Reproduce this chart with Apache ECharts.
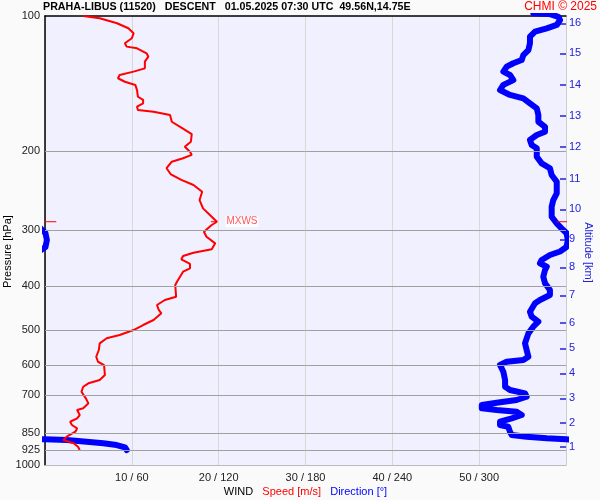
<!DOCTYPE html>
<html>
<head>
<meta charset="utf-8">
<script src="https://cdn.jsdelivr.net/npm/echarts@6/dist/echarts.min.js"></script>
<style>
html,body{margin:0;padding:0;background:#fafafa;}
#c{width:600px;height:500px;}
</style>
</head>
<body>
<div id="c"></div>
<script>
// ---- data ----
// wind speed profile [m/s] and its pressure levels [hPa]
const speedPres = [100,101.2,103.8,106.5,109.3,112.1,115.0,117.0,118.0,121.1,123.2,126.4,130.8,133.0,135.3,137.6,140.1,142.4,146.2,151.3,153.8,156.5,159.2,162.0,163.4,166.2,172.0,177.2,183.2,190.5,195.5,200.5,203.9,207.4,211.1,218.3,225.4,231.8,237.9,246.2,257.0,268.2,279.9,287.2,292.1,302.3,310.2,320.9,330.9,336.7,342.4,348.3,356.7,364.7,371.1,390.6,397.3,421.9,429.1,440.2,451.6,459.3,475.4,487.8,500.5,513.5,522.2,535.8,554.5,574.0,588.9,598.9,630.4,646.8,657.8,669.4,686.8,710.4,728.9,747.8,754.3,773.9,787.1,801.0,814.6,828.5,843.1,865.0,879.8,894.8,910.6,926.2];
const speed = [4.4,6.3,8.3,9.6,10.2,10.0,9.2,9.4,10.6,11.7,11.9,11.5,11.5,10.2,8.6,8.4,9.2,10.4,10.6,10.7,11.3,11.3,10.6,10.7,12.5,14.4,14.6,15.7,16.9,16.8,16.1,16.7,16.9,15.9,14.6,14.0,14.5,15.7,17.1,18.1,17.8,18.2,19.2,19.8,19.2,18.3,18.6,19.6,19.2,17.1,15.9,15.7,16.7,16.7,15.9,15.2,15.0,15.1,13.8,12.9,13.1,13.4,12.5,11.3,10.2,8.6,7.1,6.3,6.2,5.9,6.1,6.8,6.9,6.3,5.0,4.4,4.2,4.7,5.0,4.4,3.7,4.0,3.7,2.9,3.1,3.7,3.5,2.5,2.1,3.3,3.8,4.0];
// wind direction profile [deg] (unwrapped, may exceed 360) and pressure levels [hPa]
const dirPres = [98.6,99.0,100.4,102.1,104.7,106.5,108.4,111.2,115.0,119.1,122.2,125.3,127.4,129.7,133.0,135.3,138.9,142.4,146.2,149.9,152.5,156.5,160.6,166.2,172.0,176.5,181.0,184.1,188.8,193.8,197.1,205.8,212.9,218.3,226.0,233.9,248.3,257.0,266.0,279.9,289.6,299.7,304.3,315.4,327.0,334.6,340.7,349.5,355.4,361.7,367.9,380.7,393.9,407.6,418.2,429.1,436.4,455.6,467.4,479.6,492.0,509.1,535.8,554.5,574.0,583.8,588.9,598.9,619.8,646.8,669.4,680.8,692.4,704.6,716.6,726.6,735.2,747.8,754.3,760.9,773.9,787.1,801.0,814.6,821.8,843.1,857.5,865.0,872.1,876.6,877.5,879.8,887.5,894.8,902.7,913.4,926.2];
const dirDeg = [337.4,348.9,354.7,355.9,353.6,346.7,338.6,335.1,335.1,334.0,330.5,329.4,323.6,319.0,316.7,321.3,323.6,316.7,314.4,321.3,330.5,335.1,339.8,340.9,340.9,345.5,345.5,339.8,335.1,336.3,339.8,339.8,343.2,348.9,350.1,353.6,353.6,351.2,350.1,350.1,353.6,358.1,360.3,361.3,360.3,355.9,348.9,343.2,342.0,346.7,345.5,344.3,345.5,348.9,348.9,342.0,338.6,335.1,336.3,340.9,337.4,334.0,331.7,332.8,334.0,330.5,319.0,314.4,316.7,317.9,317.9,321.3,331.7,332.8,325.9,312.1,301.8,301.8,312.1,325.9,329.4,322.5,314.4,314.4,320.1,321.3,322.5,332.8,346.7,360.0,361.2,375.0,388.8,400.3,409.5,415.3,416.5];
// axis ticks
const pressTicks = [100,200,300,400,500,600,700,850,925,1000];
const speedTicks = [10,20,30,40,50];
const dirTicks = [60,120,180,240,300];
const altKm = [1,2,3,4,5,6,7,8,9,10,11,12,13,14,15,16];
const altPres = [910.4,807.2,710.4,624.9,549.7,482.1,418.8,362.8,314.3,269.6,230.7,195.5,167.1,142.2,121.1,103.8];

// ---- chart ----
const FONT = 'Arial, "Liberation Sans", sans-serif';
let mi = 0;
speed.forEach((s, i) => { if (s > speed[mi]) mi = i; });
const maxS = speed[mi], maxP = speedPres[mi];

const speedData = speed.map((s, i) => [s, speedPres[i]]);
const dirData = dirDeg.map((d, i) => [d, dirPres[i]]);
const dirWrapData = dirDeg.map((d, i) => [d - 360, dirPres[i]]);

const chart = echarts.init(document.getElementById('c'), null, {renderer: 'canvas'});
const blueStyle = {color: '#0000ff', width: 6, cap: 'round', join: 'round'};

chart.setOption({
  backgroundColor: '#fafafa',
  animation: false,
  title: [
    {text: 'PRAHA-LIBUS (11520)   DESCENT   01.05.2025 07:30 UTC  49.56N,14.75E',
     left: 43, top: 2, padding: 0, textStyle: {fontFamily: FONT, fontSize: 10.7, fontWeight: 'bold', color: '#000'}},
    {text: 'CHMI \u00a9 2025', right: 3, top: 1, padding: 0,
     textStyle: {fontFamily: FONT, fontSize: 12, fontWeight: 'normal', color: '#ff0000'}}
  ],
  grid: {left: 45, right: 34, top: 16, bottom: 35, outerBoundsMode: 'none', containLabel: false,
         show: true, backgroundColor: '#f0f0ff', borderWidth: 0},
  xAxis: [
    {type: 'value', min: 0, max: 60, interval: 10, position: 'bottom',
     axisLine: {lineStyle: {color: '#bbbbbb', width: 1}},
     axisTick: {show: false},
     splitLine: {show: true, lineStyle: {color: '#d8d8d8', width: 1}},
     axisLabel: {fontFamily: FONT, fontSize: 11, color: '#222', margin: 7,
       formatter: v => { const k = speedTicks.indexOf(v); return k < 0 ? '' : v + ' / ' + dirTicks[k]; }},
     name: '{k|WIND}   {r|Speed [m/s]}   {b|Direction [\u00b0]}',
     nameLocation: 'middle', nameGap: 21, nameMoveOverlap: false,
     nameTextStyle: {fontFamily: FONT, fontSize: 11, rich: {
       k: {color: '#000', fontFamily: FONT, fontSize: 11},
       r: {color: '#ff0000', fontFamily: FONT, fontSize: 11},
       b: {color: '#0000ff', fontFamily: FONT, fontSize: 11}}}},
    {type: 'value', min: 0, max: 360, position: 'top',
     axisLine: {show: true, onZero: false, lineStyle: {color: '#000', width: 1.5}},
     axisTick: {show: false}, axisLabel: {show: false}, splitLine: {show: false}}
  ],
  yAxis: [
    {type: 'log', logBase: 10, min: 100, max: 1000, inverse: true, position: 'left',
     axisLine: {show: true, onZero: false, lineStyle: {color: '#000', width: 1.5}},
     axisTick: {show: false},
     splitLine: {show: false},
     axisLabel: {customValues: pressTicks, fontFamily: FONT, fontSize: 11, color: '#222', margin: 5,
       formatter: v => String(Math.round(v))},
     name: 'Pressure [hPa]', nameLocation: 'middle', nameGap: 32, nameRotate: 90, nameMoveOverlap: false,
     nameTextStyle: {fontFamily: FONT, fontSize: 11, color: '#000', padding: [0, 22, 0, 0]}},
    {type: 'log', logBase: 10, min: 100, max: 1000, inverse: true, position: 'right',
     axisLine: {show: true, onZero: false, lineStyle: {color: '#cccccc', width: 1}},
     axisTick: {show: true, inside: true, length: 6, customValues: altPres, lineStyle: {color: '#2222dd', width: 1.5}},
     splitLine: {show: false},
     axisLabel: {customValues: altPres, fontFamily: FONT, fontSize: 11, color: '#2222dd', margin: 3,
       formatter: v => { let k = 0, best = 1e9; altPres.forEach((p, i) => { const d = Math.abs(p - v); if (d < best) { best = d; k = i; } }); return String(altKm[k]); }},
     name: 'Altitude [km]', nameLocation: 'middle', nameGap: 17, nameRotate: -90, nameMoveOverlap: false,
     nameTextStyle: {fontFamily: FONT, fontSize: 11, color: '#2222dd', padding: [0, 0, 0, 24]}}
  ],
  series: [
    {name: 'grid', type: 'line', xAxisIndex: 0, yAxisIndex: 0, data: speedData, z: 1,
     symbol: 'none', lineStyle: {opacity: 0}, silent: true,
     markLine: {silent: true, symbol: 'none', animation: false, label: {show: false},
       lineStyle: {color: '#a0a0a0', width: 1, type: 'solid'},
       data: pressTicks.filter(p => p !== 100 && p !== 1000).map(p => ({yAxis: p}))}},
    {name: 'dir', type: 'line', xAxisIndex: 1, yAxisIndex: 0, data: dirData, z: 3,
     symbol: 'none', clip: true, lineStyle: blueStyle},
    {name: 'dirWrap', type: 'line', xAxisIndex: 1, yAxisIndex: 0, data: dirWrapData, z: 3,
     symbol: 'none', clip: true, lineStyle: blueStyle},
    {name: 'speed', type: 'line', xAxisIndex: 0, yAxisIndex: 0, data: speedData, z: 4,
     symbol: 'none', lineStyle: {color: '#ff0000', width: 2}},
    {name: 'mxwsTick', type: 'line', xAxisIndex: 0, yAxisIndex: 0, z: 5, symbol: 'none', clip: false,
     data: [[maxS - 0.7, maxP], [maxS, maxP]], lineStyle: {color: '#ff0000', width: 1}},
    {name: 'mxwsL', type: 'line', xAxisIndex: 0, yAxisIndex: 0, z: 5, symbol: 'none', clip: false,
     data: [[-0.2, maxP], [1.3, maxP]], lineStyle: {color: '#ff0000', width: 1}},
    {name: 'mxwsR', type: 'line', xAxisIndex: 0, yAxisIndex: 0, z: 5, symbol: 'none', clip: false,
     data: [[58.9, maxP], [60.3, maxP]], lineStyle: {color: '#ff0000', width: 1}},
    {name: 'mxwsLabel', type: 'scatter', xAxisIndex: 0, yAxisIndex: 0, z: 6, symbolSize: 1,
     itemStyle: {color: 'rgba(0,0,0,0)'}, data: [[maxS, maxP]],
     label: {show: true, position: 'right', distance: 8, formatter: 'MXWS', color: '#ff3030',
       fontFamily: FONT, fontSize: 10, backgroundColor: '#ffffff', padding: [1, 1, 0, 1]}}
  ]
});
</script>
</body>
</html>
